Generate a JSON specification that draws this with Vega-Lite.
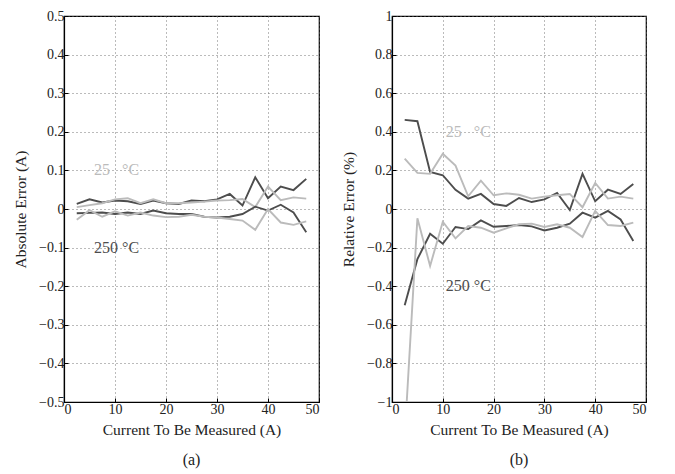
{
  "$schema": "https://vega.github.io/schema/vega-lite/v6.json",
  "padding": {"left": 13, "top": 8, "right": 5, "bottom": 5},
  "spacing": 20,
  "config": {
    "font": "Liberation Serif",
    "view": {"stroke": "black", "strokeWidth": 1.2},
    "axis": {
      "labelFont": "Liberation Serif", "titleFont": "Liberation Serif",
      "labelFontSize": 14, "titleFontSize": 15.5, "titleFontWeight": "normal",
      "labelColor": "#222", "titleColor": "#222", "labelOverlap": false,
      "domainColor": "black", "domainWidth": 1.2,
      "gridColor": "#666", "gridDash": [1, 3], "gridWidth": 0.9,
      "tickColor": "black", "tickSize": -4, "labelPadding": 4, "tickCount": 20
    },
    "title": {"font": "Liberation Serif", "fontSize": 16, "fontWeight": "normal", "color": "#222"}
  },
  "datasets": {
    "abs": [
      {"series": "ud", "tone": "dark", "current": 2.5, "error": 0.013},
      {"series": "ud", "tone": "dark", "current": 5, "error": 0.025},
      {"series": "ud", "tone": "dark", "current": 7.5, "error": 0.017},
      {"series": "ud", "tone": "dark", "current": 10, "error": 0.022},
      {"series": "ud", "tone": "dark", "current": 12.5, "error": 0.020},
      {"series": "ud", "tone": "dark", "current": 15, "error": 0.013},
      {"series": "ud", "tone": "dark", "current": 17.5, "error": 0.022},
      {"series": "ud", "tone": "dark", "current": 20, "error": 0.015},
      {"series": "ud", "tone": "dark", "current": 22.5, "error": 0.013},
      {"series": "ud", "tone": "dark", "current": 25, "error": 0.022},
      {"series": "ud", "tone": "dark", "current": 27.5, "error": 0.020},
      {"series": "ud", "tone": "dark", "current": 30, "error": 0.025},
      {"series": "ud", "tone": "dark", "current": 32.5, "error": 0.039},
      {"series": "ud", "tone": "dark", "current": 35, "error": 0.009},
      {"series": "ud", "tone": "dark", "current": 37.5, "error": 0.082},
      {"series": "ud", "tone": "dark", "current": 40, "error": 0.028},
      {"series": "ud", "tone": "dark", "current": 42.5, "error": 0.058},
      {"series": "ud", "tone": "dark", "current": 45, "error": 0.049},
      {"series": "ud", "tone": "dark", "current": 47.5, "error": 0.078},
      {"series": "ul", "tone": "light", "current": 2.5, "error": 0.005},
      {"series": "ul", "tone": "light", "current": 5, "error": 0.010},
      {"series": "ul", "tone": "light", "current": 7.5, "error": 0.015},
      {"series": "ul", "tone": "light", "current": 10, "error": 0.025},
      {"series": "ul", "tone": "light", "current": 12.5, "error": 0.028},
      {"series": "ul", "tone": "light", "current": 15, "error": 0.015},
      {"series": "ul", "tone": "light", "current": 17.5, "error": 0.025},
      {"series": "ul", "tone": "light", "current": 20, "error": 0.015},
      {"series": "ul", "tone": "light", "current": 22.5, "error": 0.015},
      {"series": "ul", "tone": "light", "current": 25, "error": 0.017},
      {"series": "ul", "tone": "light", "current": 27.5, "error": 0.019},
      {"series": "ul", "tone": "light", "current": 30, "error": 0.022},
      {"series": "ul", "tone": "light", "current": 32.5, "error": 0.023},
      {"series": "ul", "tone": "light", "current": 35, "error": 0.026},
      {"series": "ul", "tone": "light", "current": 37.5, "error": 0.005},
      {"series": "ul", "tone": "light", "current": 40, "error": 0.058},
      {"series": "ul", "tone": "light", "current": 42.5, "error": 0.023},
      {"series": "ul", "tone": "light", "current": 45, "error": 0.030},
      {"series": "ul", "tone": "light", "current": 47.5, "error": 0.027},
      {"series": "ld", "tone": "dark", "current": 2.5, "error": -0.011},
      {"series": "ld", "tone": "dark", "current": 5, "error": -0.010},
      {"series": "ld", "tone": "dark", "current": 7.5, "error": -0.009},
      {"series": "ld", "tone": "dark", "current": 10, "error": -0.013},
      {"series": "ld", "tone": "dark", "current": 12.5, "error": -0.009},
      {"series": "ld", "tone": "dark", "current": 15, "error": -0.013},
      {"series": "ld", "tone": "dark", "current": 17.5, "error": -0.004},
      {"series": "ld", "tone": "dark", "current": 20, "error": -0.011},
      {"series": "ld", "tone": "dark", "current": 22.5, "error": -0.013},
      {"series": "ld", "tone": "dark", "current": 25, "error": -0.013},
      {"series": "ld", "tone": "dark", "current": 27.5, "error": -0.020},
      {"series": "ld", "tone": "dark", "current": 30, "error": -0.022},
      {"series": "ld", "tone": "dark", "current": 32.5, "error": -0.020},
      {"series": "ld", "tone": "dark", "current": 35, "error": -0.013},
      {"series": "ld", "tone": "dark", "current": 37.5, "error": 0.006},
      {"series": "ld", "tone": "dark", "current": 40, "error": -0.004},
      {"series": "ld", "tone": "dark", "current": 42.5, "error": 0.011},
      {"series": "ld", "tone": "dark", "current": 45, "error": -0.009},
      {"series": "ld", "tone": "dark", "current": 47.5, "error": -0.060},
      {"series": "ll", "tone": "light", "current": 2.5, "error": -0.028},
      {"series": "ll", "tone": "light", "current": 5, "error": -0.003},
      {"series": "ll", "tone": "light", "current": 7.5, "error": -0.020},
      {"series": "ll", "tone": "light", "current": 10, "error": -0.006},
      {"series": "ll", "tone": "light", "current": 12.5, "error": -0.017},
      {"series": "ll", "tone": "light", "current": 15, "error": -0.009},
      {"series": "ll", "tone": "light", "current": 17.5, "error": -0.017},
      {"series": "ll", "tone": "light", "current": 20, "error": -0.021},
      {"series": "ll", "tone": "light", "current": 22.5, "error": -0.020},
      {"series": "ll", "tone": "light", "current": 25, "error": -0.015},
      {"series": "ll", "tone": "light", "current": 27.5, "error": -0.020},
      {"series": "ll", "tone": "light", "current": 30, "error": -0.022},
      {"series": "ll", "tone": "light", "current": 32.5, "error": -0.026},
      {"series": "ll", "tone": "light", "current": 35, "error": -0.030},
      {"series": "ll", "tone": "light", "current": 37.5, "error": -0.054},
      {"series": "ll", "tone": "light", "current": 40, "error": 0.000},
      {"series": "ll", "tone": "light", "current": 42.5, "error": -0.035},
      {"series": "ll", "tone": "light", "current": 45, "error": -0.041},
      {"series": "ll", "tone": "light", "current": 47.5, "error": -0.032}
    ],
    "rel": [
      {"series": "ud", "tone": "dark", "current": 2.5, "error": 0.462},
      {"series": "ud", "tone": "dark", "current": 5, "error": 0.455},
      {"series": "ud", "tone": "dark", "current": 7.5, "error": 0.192},
      {"series": "ud", "tone": "dark", "current": 10, "error": 0.175},
      {"series": "ud", "tone": "dark", "current": 12.5, "error": 0.099},
      {"series": "ud", "tone": "dark", "current": 15, "error": 0.054},
      {"series": "ud", "tone": "dark", "current": 17.5, "error": 0.078},
      {"series": "ud", "tone": "dark", "current": 20, "error": 0.026},
      {"series": "ud", "tone": "dark", "current": 22.5, "error": 0.016},
      {"series": "ud", "tone": "dark", "current": 25, "error": 0.057},
      {"series": "ud", "tone": "dark", "current": 27.5, "error": 0.036},
      {"series": "ud", "tone": "dark", "current": 30, "error": 0.050},
      {"series": "ud", "tone": "dark", "current": 32.5, "error": 0.083},
      {"series": "ud", "tone": "dark", "current": 35, "error": -0.005},
      {"series": "ud", "tone": "dark", "current": 37.5, "error": 0.182},
      {"series": "ud", "tone": "dark", "current": 40, "error": 0.040},
      {"series": "ud", "tone": "dark", "current": 42.5, "error": 0.100},
      {"series": "ud", "tone": "dark", "current": 45, "error": 0.078},
      {"series": "ud", "tone": "dark", "current": 47.5, "error": 0.130},
      {"series": "ul", "tone": "light", "current": 2.5, "error": 0.261},
      {"series": "ul", "tone": "light", "current": 5, "error": 0.187},
      {"series": "ul", "tone": "light", "current": 7.5, "error": 0.182},
      {"series": "ul", "tone": "light", "current": 10, "error": 0.286},
      {"series": "ul", "tone": "light", "current": 12.5, "error": 0.225},
      {"series": "ul", "tone": "light", "current": 15, "error": 0.066},
      {"series": "ul", "tone": "light", "current": 17.5, "error": 0.147},
      {"series": "ul", "tone": "light", "current": 20, "error": 0.071},
      {"series": "ul", "tone": "light", "current": 22.5, "error": 0.081},
      {"series": "ul", "tone": "light", "current": 25, "error": 0.074},
      {"series": "ul", "tone": "light", "current": 27.5, "error": 0.054},
      {"series": "ul", "tone": "light", "current": 30, "error": 0.064},
      {"series": "ul", "tone": "light", "current": 32.5, "error": 0.071},
      {"series": "ul", "tone": "light", "current": 35, "error": 0.078},
      {"series": "ul", "tone": "light", "current": 37.5, "error": 0.009},
      {"series": "ul", "tone": "light", "current": 40, "error": 0.135},
      {"series": "ul", "tone": "light", "current": 42.5, "error": 0.054},
      {"series": "ul", "tone": "light", "current": 45, "error": 0.064},
      {"series": "ul", "tone": "light", "current": 47.5, "error": 0.054},
      {"series": "ld", "tone": "dark", "current": 2.5, "error": -0.499},
      {"series": "ld", "tone": "dark", "current": 5, "error": -0.260},
      {"series": "ld", "tone": "dark", "current": 7.5, "error": -0.128},
      {"series": "ld", "tone": "dark", "current": 10, "error": -0.180},
      {"series": "ld", "tone": "dark", "current": 12.5, "error": -0.093},
      {"series": "ld", "tone": "dark", "current": 15, "error": -0.104},
      {"series": "ld", "tone": "dark", "current": 17.5, "error": -0.059},
      {"series": "ld", "tone": "dark", "current": 20, "error": -0.092},
      {"series": "ld", "tone": "dark", "current": 22.5, "error": -0.088},
      {"series": "ld", "tone": "dark", "current": 25, "error": -0.083},
      {"series": "ld", "tone": "dark", "current": 27.5, "error": -0.090},
      {"series": "ld", "tone": "dark", "current": 30, "error": -0.111},
      {"series": "ld", "tone": "dark", "current": 32.5, "error": -0.097},
      {"series": "ld", "tone": "dark", "current": 35, "error": -0.076},
      {"series": "ld", "tone": "dark", "current": 37.5, "error": -0.019},
      {"series": "ld", "tone": "dark", "current": 40, "error": -0.045},
      {"series": "ld", "tone": "dark", "current": 42.5, "error": -0.010},
      {"series": "ld", "tone": "dark", "current": 45, "error": -0.054},
      {"series": "ld", "tone": "dark", "current": 47.5, "error": -0.166},
      {"series": "ll", "tone": "light", "current": 2.5, "error": -1.18},
      {"series": "ll", "tone": "light", "current": 5, "error": -0.048},
      {"series": "ll", "tone": "light", "current": 7.5, "error": -0.295},
      {"series": "ll", "tone": "light", "current": 10, "error": -0.066},
      {"series": "ll", "tone": "light", "current": 12.5, "error": -0.152},
      {"series": "ll", "tone": "light", "current": 15, "error": -0.088},
      {"series": "ll", "tone": "light", "current": 17.5, "error": -0.097},
      {"series": "ll", "tone": "light", "current": 20, "error": -0.123},
      {"series": "ll", "tone": "light", "current": 22.5, "error": -0.100},
      {"series": "ll", "tone": "light", "current": 25, "error": -0.079},
      {"series": "ll", "tone": "light", "current": 27.5, "error": -0.076},
      {"series": "ll", "tone": "light", "current": 30, "error": -0.093},
      {"series": "ll", "tone": "light", "current": 32.5, "error": -0.079},
      {"series": "ll", "tone": "light", "current": 35, "error": -0.097},
      {"series": "ll", "tone": "light", "current": 37.5, "error": -0.145},
      {"series": "ll", "tone": "light", "current": 40, "error": -0.010},
      {"series": "ll", "tone": "light", "current": 42.5, "error": -0.083},
      {"series": "ll", "tone": "light", "current": 45, "error": -0.088},
      {"series": "ll", "tone": "light", "current": 47.5, "error": -0.071}
    ],
    "absLabels": [
      {"label": "25\u00a0\u00a0\u00a0°C", "tone": "light", "current": 5.9, "error": 0.1},
      {"label": "250 °C", "tone": "dark", "current": 5.9, "error": -0.1}
    ],
    "relLabels": [
      {"label": "25\u00a0\u00a0\u00a0°C", "tone": "light", "current": 10.6, "error": 0.4},
      {"label": "250 °C", "tone": "dark", "current": 10.6, "error": -0.4}
    ]
  },
  "hconcat": [
    {
      "width": 255,
      "height": 386,
      "title": {"text": "(a)", "orient": "bottom", "offset": 14},
      "layer": [
        {
          "data": {"name": "abs"},
          "mark": {"type": "line", "strokeWidth": 1.9, "clip": true},
          "encoding": {
            "x": {"field": "current", "type": "quantitative", "scale": {"domain": [0, 50]},
                  "axis": {"values": [0, 10, 20, 30, 40, 50], "title": "Current To Be Measured (A)", "titlePadding": 6}},
            "y": {"field": "error", "type": "quantitative", "scale": {"domain": [-0.5, 0.5]},
                  "axis": {"values": [-0.5, -0.4, -0.3, -0.2, -0.1, 0, 0.1, 0.2, 0.3, 0.4, 0.5], "tickCount": 20, "format": "~g", "title": "Absolute Error (A)", "titlePadding": 10}},
            "detail": {"field": "series"},
            "color": {"field": "tone", "type": "nominal", "scale": {"domain": ["light", "dark"], "range": ["#bbbbbb", "#4d4d4d"]}, "legend": null}
          }
        },
        {
          "data": {"name": "absLabels"},
          "mark": {"type": "text", "align": "left", "baseline": "middle", "fontSize": 16, "font": "Liberation Serif"},
          "encoding": {
            "x": {"field": "current", "type": "quantitative"},
            "y": {"field": "error", "type": "quantitative"},
            "text": {"field": "label"},
            "color": {"field": "tone", "type": "nominal", "legend": null}
          }
        }
      ]
    },
    {
      "width": 254,
      "height": 386,
      "title": {"text": "(b)", "orient": "bottom", "offset": 14},
      "layer": [
        {
          "data": {"name": "rel"},
          "mark": {"type": "line", "strokeWidth": 1.9, "clip": true},
          "encoding": {
            "x": {"field": "current", "type": "quantitative", "scale": {"domain": [0, 50]},
                  "axis": {"values": [0, 10, 20, 30, 40, 50], "title": "Current To Be Measured (A)", "titlePadding": 6}},
            "y": {"field": "error", "type": "quantitative", "scale": {"domain": [-1, 1]},
                  "axis": {"values": [-1, -0.8, -0.6, -0.4, -0.2, 0, 0.2, 0.4, 0.6, 0.8, 1], "tickCount": 20, "format": "~g", "title": "Relative Error (%)", "titlePadding": 10}},
            "detail": {"field": "series"},
            "color": {"field": "tone", "type": "nominal", "legend": null}
          }
        },
        {
          "data": {"name": "relLabels"},
          "mark": {"type": "text", "align": "left", "baseline": "middle", "fontSize": 16, "font": "Liberation Serif"},
          "encoding": {
            "x": {"field": "current", "type": "quantitative"},
            "y": {"field": "error", "type": "quantitative"},
            "text": {"field": "label"},
            "color": {"field": "tone", "type": "nominal", "legend": null}
          }
        }
      ]
    }
  ]
}
